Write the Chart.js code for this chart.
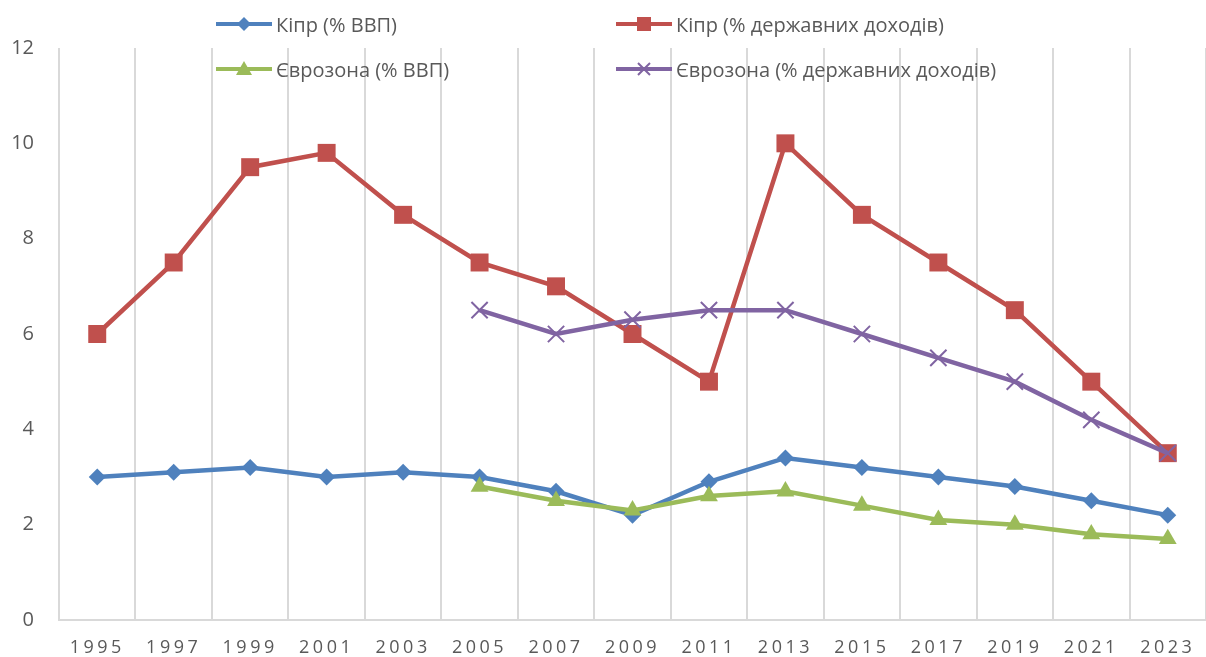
<!DOCTYPE html>
<html>
<head>
<meta charset="utf-8">
<script src="https://cdn.jsdelivr.net/npm/chart.js@4.4.1/dist/chart.umd.min.js"></script>
<style>
html,body{margin:0;padding:0;background:#fff;}
#wrap{position:relative;width:1206px;height:657px;overflow:hidden;}
#c{position:absolute;left:0;top:0;}
#legend{position:absolute;left:0;top:0;width:1206px;height:100px;pointer-events:none;font-family:'Open Sans',sans-serif;font-size:20px;color:#595959;}
.item{position:absolute;display:flex;align-items:center;height:30px;white-space:nowrap;}
.item svg{display:block;margin-right:4px;}
</style>
</head>
<body>
<div id="wrap">
<canvas id="c" width="1206" height="657"></canvas>
<div id="legend"></div>
</div>
<script>
// ---- data ----
const years = ['1995','1997','1999','2001','2003','2005','2007','2009','2011','2013','2015','2017','2019','2021','2023'];
const cyprusGdp = [3.0, 3.1, 3.2, 3.0, 3.1, 3.0, 2.7, 2.2, 2.9, 3.4, 3.2, 3.0, 2.8, 2.5, 2.2];
const cyprusRevenue = [6.0, 7.5, 9.5, 9.8, 8.5, 7.5, 7.0, 6.0, 5.0, 10.0, 8.5, 7.5, 6.5, 5.0, 3.5];
const euroGdp = [null, null, null, null, null, 2.8, 2.5, 2.3, 2.6, 2.7, 2.4, 2.1, 2.0, 1.8, 1.7];
const euroRevenue = [null, null, null, null, null, 6.5, 6.0, 6.3, 6.5, 6.5, 6.0, 5.5, 5.0, 4.2, 3.5];
const seriesLabels = ['Кіпр (% ВВП)', 'Кіпр (% державних доходів)', 'Єврозона (% ВВП)', 'Єврозона (% державних доходів)'];
const yTicks = [0, 2, 4, 6, 8, 10, 12];

// ---- styles ----
const colors = ['#4F81BD', '#C0504D', '#9BBB59', '#8064A2'];
const shapes = ['rectRot', 'rect', 'triangle', 'crossRot'];
const radii = [8.5, 12.7, 10.3, 11.5];
const values = [cyprusGdp, cyprusRevenue, euroGdp, euroRevenue];

Chart.defaults.font.family = "'Open Sans', sans-serif";
Chart.defaults.color = '#595959';

const datasets = values.map((v, i) => ({
  label: seriesLabels[i],
  data: v,
  borderColor: colors[i],
  backgroundColor: colors[i],
  borderWidth: 4.5,
  pointStyle: shapes[i],
  pointRadius: radii[i],
  pointHoverRadius: radii[i],
  pointBorderWidth: shapes[i] === 'crossRot' ? 2 : 0,
  pointBorderColor: colors[i],
  pointBackgroundColor: colors[i],
  tension: 0,
  spanGaps: false,
  clip: false,
  order: 4 - i
}));

const spacedX = {
  id: 'spacedX',
  beforeDraw(chart) {
    const s = chart.scales.x;
    if (s && !s._spacedPatched) {
      const orig = s.drawLabels;
      s.drawLabels = function (area) {
        const ctx = this.ctx;
        ctx.save();
        ctx.letterSpacing = '3.5px';
        orig.call(this, area);
        ctx.restore();
      };
      s._spacedPatched = true;
    }
  }
};

new Chart(document.getElementById('c'), {
  type: 'line',
  data: { labels: years, datasets },
  plugins: [spacedX],
  options: {
    responsive: false,
    animation: false,
    devicePixelRatio: 1,
    layout: { autoPadding: false, padding: { top: 48, right: 0, left: 0, bottom: 0 } },
    plugins: { legend: { display: false }, tooltip: { enabled: false } },
    scales: {
      x: {
        offset: true,
        grid: { offset: true, color: '#d9d9d9', lineWidth: 2, drawTicks: false },
        border: { display: true, color: '#d9d9d9', width: 2 },
        ticks: { autoSkip: false, maxRotation: 0, padding: 17, font: { size: 18 }, color: '#595959' },
        afterFit(scale) { scale.height = 37; scale.paddingLeft = 0; scale.paddingRight = 0; }
      },
      y: {
        min: 0, max: 12,
        afterBuildTicks(scale) { scale.ticks = yTicks.map(v => ({ value: v })); },
        grid: { display: false, drawTicks: false },
        border: { display: false },
        ticks: { padding: 25, font: { size: 20 }, color: '#595959' },
        afterFit(scale) { scale.width = 59; scale.paddingTop = 0; scale.paddingBottom = 0; }
      }
    }
  }
});

// ---- HTML legend built from dataset labels ----
const legendPos = [[216, 9], [616, 9], [216, 54], [616, 54]];
function markerSvg(i) {
  const c = colors[i];
  let m = '';
  if (shapes[i] === 'rectRot') m = `<polygon points="28,8 35,15 28,22 21,15" fill="${c}"/>`;
  else if (shapes[i] === 'rect') m = `<rect x="21" y="8" width="14" height="14" fill="${c}"/>`;
  else if (shapes[i] === 'triangle') m = `<polygon points="28,7 36,21 20,21" fill="${c}"/>`;
  else m = `<path d="M22,9 L34,21 M34,9 L22,21" stroke="${c}" stroke-width="2"/>`;
  return `<svg width="56" height="30" viewBox="0 0 56 30"><line x1="0" y1="15" x2="56" y2="15" stroke="${c}" stroke-width="4"/>${m}</svg>`;
}
const lg = document.getElementById('legend');
seriesLabels.forEach((t, i) => {
  const d = document.createElement('div');
  d.className = 'item';
  d.style.left = legendPos[i][0] + 'px';
  d.style.top = legendPos[i][1] + 'px';
  d.innerHTML = markerSvg(i) + '<span>' + t + '</span>';
  lg.appendChild(d);
});
</script>
</body>
</html>
